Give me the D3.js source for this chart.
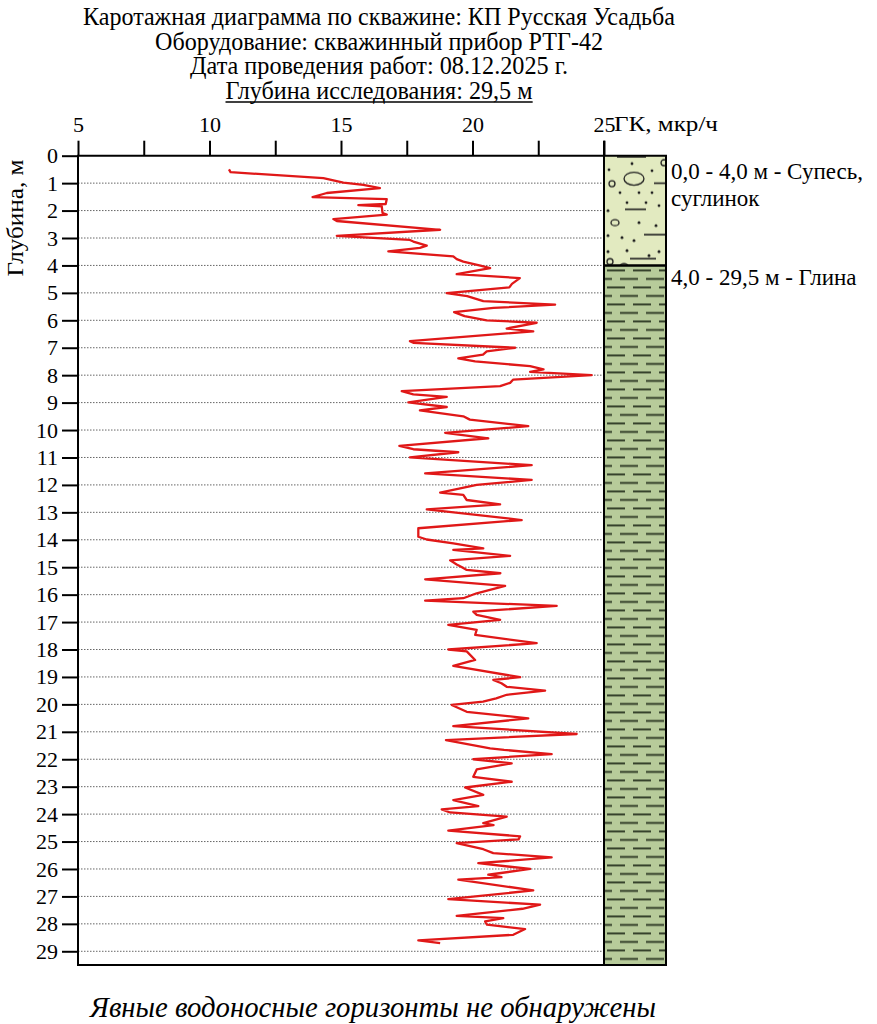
<!DOCTYPE html>
<html>
<head>
<meta charset="utf-8">
<script src="https://cdn.jsdelivr.net/npm/d3@7"></script>
<style>
  body { margin: 0; background: #fff; }
  svg text { font-family: "Liberation Serif", "Times New Roman", serif; }
</style>
</head>
<body>
<svg id="chart" width="877" height="1024"></svg>
<script>
// заголовок
const titleLines = [
    "Каротажная диаграмма по скважине: КП Русская Усадьба",
    "Оборудование: скважинный прибор РТГ-42",
    "Дата проведения работ: 08.12.2025 г.",
    "Глубина исследования: 29,5 м"
];
const footNote = "Явные водоносные горизонты не обнаружены";
const xLabel = "ГК, мкр/ч";
const yLabel = "Глубина, м";

// данные каротажа: глубина (м) и ГК (мкр/ч)
const depth = [
    0.50, 0.60, 0.82, 0.98, 1.06, 1.18, 1.36, 1.51, 1.58, 1.76, 1.80, 1.85, 2.09, 2.15, 2.31, 2.38,
    2.70, 2.92, 3.07, 3.13, 3.28, 3.36, 3.49, 3.67, 3.77, 3.86, 4.01, 4.10, 4.32, 4.46, 4.67, 4.80,
    5.01, 5.12, 5.30, 5.43, 5.55, 5.70, 5.85, 6.00, 6.09, 6.30, 6.40, 6.76, 6.82, 7.00, 7.13, 7.25,
    7.39, 7.50, 7.67, 7.79, 7.88, 8.00, 8.16, 8.28, 8.40, 8.58, 8.70, 8.79, 8.99, 9.16, 9.28, 9.50,
    9.62, 9.86, 10.10, 10.30, 10.58, 10.70, 10.81, 11.00, 11.28, 11.58, 11.82, 12.00, 12.28, 12.36,
    12.55, 12.71, 12.89, 13.28, 13.58, 13.89, 13.99, 14.13, 14.31, 14.37, 14.59, 14.75, 14.90, 15.00,
    15.10, 15.22, 15.44, 15.68, 15.95, 16.13, 16.22, 16.41, 16.62, 16.74, 16.92, 17.10, 17.28, 17.47,
    17.77, 18.00, 18.07, 18.38, 18.60, 19.01, 19.11, 19.23, 19.36, 19.50, 19.65, 19.78, 19.90, 20.02,
    20.27, 20.51, 20.79, 21.08, 21.30, 21.60, 21.66, 21.81, 22.00, 22.15, 22.37, 22.64, 22.82, 23.03,
    23.30, 23.49, 23.71, 23.83, 23.94, 24.09, 24.33, 24.40, 24.60, 24.81, 24.92, 25.06, 25.28, 25.42,
    25.58, 25.79, 26.00, 26.21, 26.30, 26.39, 26.78, 27.10, 27.30, 27.45, 27.71, 27.79, 27.91, 28.03,
    28.19, 28.40, 28.60, 28.70
];
const gk = [
    10.74, 10.80, 14.33, 15.09, 15.85, 16.48, 14.46, 13.92, 16.74, 16.70, 15.66, 16.55, 16.58, 16.74, 14.71, 14.84,
    18.77, 14.84, 17.62, 17.75, 18.26, 18.00, 16.80, 19.27, 19.40, 19.65, 20.30, 20.67, 19.40, 21.80, 21.50, 21.40,
    19.02, 19.80, 20.41, 23.14, 20.80, 19.30, 19.70, 20.54, 22.44, 21.30, 22.31, 17.62, 17.75, 21.62, 20.54, 20.40,
    19.46, 20.10, 22.19, 22.70, 22.19, 24.53, 21.55, 21.43, 21.05, 17.31, 17.75, 19.02, 17.56, 19.02, 18.00, 19.65,
    19.90, 22.12, 18.96, 20.60, 17.22, 17.75, 19.46, 17.62, 22.25, 18.20, 22.25, 20.16, 18.77, 19.65,
    19.78, 21.05, 18.26, 21.87, 17.94, 17.94, 18.26, 19.27, 20.41, 19.27, 21.43, 19.15, 19.40, 19.60,
    19.78, 21.06, 18.20, 21.24, 20.16, 19.65, 18.20, 23.20, 20.03, 20.16, 21.05, 19.08, 20.16, 20.10,
    22.44, 19.08, 19.78, 20.10, 19.27, 21.81, 20.79, 21.10, 21.30, 22.76, 21.30, 20.90, 20.40, 19.21,
    19.78, 22.12, 19.27, 23.96, 18.99, 20.67, 21.20, 23.01, 20.03, 21.49, 20.16, 20.03, 21.49, 19.72,
    20.41, 19.27, 20.22, 18.83, 19.15, 21.30, 20.41, 20.80, 19.08, 21.81, 21.75, 19.40, 20.41, 20.79,
    23.01, 20.22, 22.19, 20.60, 21.10, 19.46, 22.31, 19.08, 22.57, 21.90, 19.40, 21.17, 20.48, 20.55,
    22.00, 21.55, 17.94, 18.77
];

// оси
const xMajorTicks = [5, 10, 15, 20, 25];
const xAllTicks = [5, 7.5, 10, 12.5, 15, 17.5, 20, 22.5, 25];
const depthTicks = d3.range(0, 30);
const depthMax = 29.5;

// литология
const layerTop = [0, 4];
const layerBottom = [4, 29.5];
const layerKind = ["sand", "clay"];
const layerLabels = [["0,0 - 4,0 м - Супесь,", "суглинок"], ["4,0 - 29,5 м - Глина"]];

const data = depth.map((d, i) => ({ depth: d, value: gk[i] }));

const serif = "'Liberation Serif', 'Times New Roman', serif";
const svg = d3.select("#chart");
const plotLeft = 78, plotRight = 604, plotTop = 155.7, plotBottom = 965;
const colWidth = 62;

const x = d3.scaleLinear().domain([5, 25]).range([plotLeft, plotRight]);
const y = d3.scaleLinear().domain([0, depthMax]).range([plotTop, plotBottom]);

// заголовки
const titleWidths = [592, 448, 378, 307];
titleLines.forEach((t, i) => {
    const txt = svg.append("text")
        .attr("x", 379)
        .attr("y", 25 + i * 24.5)
        .attr("text-anchor", "middle")
        .attr("font-family", serif)
        .attr("textLength", titleWidths[i])
        .attr("lengthAdjust", "spacingAndGlyphs")
        .style("font-size", "25px")
        .text(t);
    if (i === titleLines.length - 1) {
        // подчеркивание
        const bb = txt.node().getBBox();
        svg.append("line")
            .attr("x1", bb.x).attr("x2", bb.x + bb.width)
            .attr("y1", 25 + i * 24.5 + 3.5).attr("y2", 25 + i * 24.5 + 3.5)
            .style("stroke", "#000").style("stroke-width", 1.4);
    }
});

// паттерны
const defs = svg.append("defs");

const sand = defs.append("pattern")
    .attr("id", "sand")
    .attr("patternUnits", "userSpaceOnUse")
    .attr("x", plotRight).attr("y", y(0))
    .attr("width", colWidth).attr("height", y(4) - y(0));
sand.append("rect").attr("width", colWidth).attr("height", y(4) - y(0)).style("fill", "#e2eac0");
const sandDots = [[5, 14], [28, 8], [48, 15], [16, 37], [35, 37], [48, 37], [4, 55], [23, 47], [42, 47],
    [55, 50], [35, 67], [52, 70], [4, 80], [18, 82], [30, 85], [23, 95], [55, 96], [4, 96], [45, 100]];
sand.selectAll(".dot").data(sandDots).enter().append("circle")
    .attr("cx", d => d[0]).attr("cy", d => d[1]).attr("r", 1.4).style("fill", "#1e1e1e");
const sandDash = [[13, 42, 1.2], [50, 63, 27.5], [21, 42, 53.6], [40, 62, 79], [26, 52, 103]];
sand.selectAll(".dash").data(sandDash).enter().append("line")
    .attr("x1", d => d[0]).attr("x2", d => d[1]).attr("y1", d => d[2]).attr("y2", d => d[2])
    .style("stroke", "#1e1e1e").style("stroke-width", 1.6);
const sandRings = [[30, 23, 10, 6.5], [60, 7, 3, 3], [8, 28, 3, 3], [11, 67, 4, 3], [6, 106, 3, 3], [20, 111, 4, 3]];
sand.selectAll(".ring").data(sandRings).enter().append("ellipse")
    .attr("cx", d => d[0]).attr("cy", d => d[1]).attr("rx", d => d[2]).attr("ry", d => d[3])
    .style("fill", "none").style("stroke", "#1e1e1e").style("stroke-width", 1.3);

const clay = defs.append("pattern")
    .attr("id", "clay")
    .attr("patternUnits", "userSpaceOnUse")
    .attr("x", plotRight).attr("y", y(4) + 1)
    .attr("width", 26).attr("height", 17);
clay.append("rect").attr("width", 26).attr("height", 17).style("fill", "#b7cb9a");
[[3, 21, 4], [16, 26, 12.5], [0, 8, 12.5]].forEach(d => {
    clay.append("line")
        .attr("x1", d[0]).attr("x2", d[1]).attr("y1", d[2]).attr("y2", d[2])
        .style("stroke", "#27321f").style("stroke-width", 1.8);
});

// колонка литологии
layerTop.forEach((t, i) => {
    svg.append("rect")
        .attr("x", plotRight)
        .attr("y", y(t))
        .attr("width", colWidth)
        .attr("height", y(layerBottom[i]) - y(t))
        .style("fill", `url(#${layerKind[i]})`);
    layerLabels[i].forEach((l, j) => {
        svg.append("text")
            .attr("x", 671)
            .attr("y", y(t) + 23 + j * 27 - (i === 1 ? 3 : 0))
            .attr("font-family", serif)
            .style("font-size", "23px")
            .text(l);
    });
});

// границы слоев
svg.selectAll(".boundary")
    .data(layerTop.slice(1))
    .enter()
    .append("line")
    .attr("x1", plotRight).attr("x2", plotRight + colWidth)
    .attr("y1", d => y(d)).attr("y2", d => y(d))
    .style("stroke", "#000").style("stroke-width", 2.5);

// сетка
svg.append("g")
    .selectAll("line")
    .data(depthTicks.filter(d => d > 0))
    .enter()
    .append("line")
    .attr("x1", plotLeft).attr("x2", plotRight)
    .attr("y1", d => y(d)).attr("y2", d => y(d))
    .style("stroke", "#666")
    .style("stroke-width", 1)
    .style("stroke-dasharray", "1.5 1.5");

// кривая ГК
const line = d3.line()
    .x(d => x(d.value))
    .y(d => y(d.depth));

svg.append("path")
    .datum(data)
    .attr("d", line)
    .style("fill", "none")
    .style("stroke", "#e01818")
    .style("stroke-width", 2.3)
    .style("stroke-linejoin", "round");

// ось X сверху
const xAxis = svg.append("g")
    .attr("transform", `translate(0,${plotTop})`)
    .call(d3.axisTop(x)
        .tickValues(xAllTicks)
        .tickSize(15)
        .tickSizeOuter(0)
        .tickPadding(9)
        .tickFormat(d => xMajorTicks.includes(d) ? d : ""));
xAxis.attr("font-family", serif).attr("font-size", 22);
xAxis.select(".domain").remove();
xAxis.selectAll("line").style("stroke", "#000").style("stroke-width", 2);
xAxis.selectAll("text").style("fill", "#000");

svg.append("text")
    .attr("x", 614)
    .attr("y", 131)
    .attr("font-family", serif)
    .attr("textLength", 104)
    .attr("lengthAdjust", "spacingAndGlyphs")
    .style("font-size", "22px")
    .text(xLabel);

// ось Y (глубина)
const yAxis = svg.append("g")
    .attr("transform", `translate(${plotLeft},0)`)
    .call(d3.axisLeft(y)
        .tickValues(depthTicks)
        .tickSize(16)
        .tickSizeOuter(0)
        .tickPadding(4));
yAxis.attr("font-family", serif).attr("font-size", 22);
yAxis.select(".domain").remove();
yAxis.selectAll("line").style("stroke", "#000").style("stroke-width", 2);
yAxis.selectAll("text").style("fill", "#000");

svg.append("text")
    .attr("transform", `translate(23,${218}) rotate(-90)`)
    .attr("text-anchor", "middle")
    .attr("font-family", serif)
    .attr("textLength", 117)
    .attr("lengthAdjust", "spacingAndGlyphs")
    .style("font-size", "23px")
    .text(yLabel);

// рамка
const frame = svg.append("g").style("stroke", "#000").style("stroke-width", 2).style("fill", "none");
frame.append("line").attr("x1", plotLeft).attr("x2", plotLeft).attr("y1", plotTop).attr("y2", plotBottom);
frame.append("line").attr("x1", plotLeft - 1).attr("x2", plotRight + colWidth + 1).attr("y1", plotTop).attr("y2", plotTop);
frame.append("line").attr("x1", plotLeft - 1).attr("x2", plotRight + colWidth + 1).attr("y1", plotBottom).attr("y2", plotBottom);
frame.append("line").attr("x1", plotRight).attr("x2", plotRight).attr("y1", plotTop - 15).attr("y2", plotBottom);
frame.append("line").attr("x1", plotRight + colWidth).attr("x2", plotRight + colWidth).attr("y1", plotTop).attr("y2", plotBottom);

// примечание
svg.append("text")
    .attr("x", 373)
    .attr("y", 1017)
    .attr("text-anchor", "middle")
    .attr("font-family", serif)
    .attr("textLength", 566)
    .attr("lengthAdjust", "spacingAndGlyphs")
    .style("font-size", "29px")
    .style("font-style", "italic")
    .text(footNote);
</script>
</body>
</html>
